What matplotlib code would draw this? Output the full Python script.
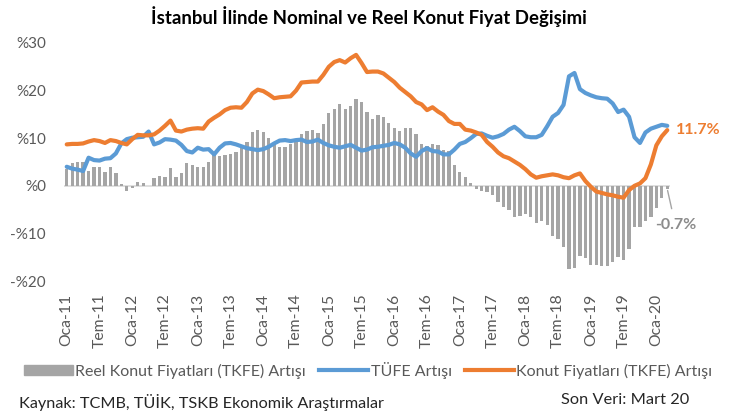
import matplotlib.pyplot as plt
from matplotlib.lines import Line2D
from matplotlib.patches import Patch
import numpy as np

plt.rcParams['font.family'] = ['Lato', 'DejaVu Sans']

# Tick labels every 6 months (Ocak 2011 - Mart 2020, monthly data)
tick_labels = ['Oca-11', 'Tem-11', 'Oca-12', 'Tem-12', 'Oca-13', 'Tem-13', 'Oca-14',
               'Tem-14', 'Oca-15', 'Tem-15', 'Oca-16', 'Tem-16', 'Oca-17', 'Tem-17',
               'Oca-18', 'Tem-18', 'Oca-19', 'Tem-19', 'Oca-20']

# Reel Konut Fiyatlari (TKFE) Artisi, %
real_change = [3.5, 4.7, 5.1, 5.1, 3.1, 4.0, 4.0, 2.9, 4.0, 2.6,
               0.3, -1.0, -0.5, 0.7, 0.5, -0.1, 1.6, 2.0, 1.8, 3.7,
               1.8, 2.6, 4.7, 4.4, 3.9, 3.9, 5.1, 6.5, 6.3, 6.5,
               6.7, 7.2, 7.9, 9.3, 11.4, 11.8, 11.2, 10.0, 9.1, 8.2,
               8.2, 8.7, 9.3, 10.8, 11.5, 11.7, 11.0, 12.9, 15.2, 16.2,
               17.2, 16.1, 16.8, 18.2, 17.5, 15.5, 14.1, 14.9, 14.5, 13.1,
               12.1, 11.5, 12.1, 12.1, 10.8, 8.7, 8.3, 8.7, 8.5, 7.5,
               7.3, 4.4, 2.9, 1.9, 0.5, -0.7, -1.1, -1.4, -2.0, -3.5,
               -4.4, -5.0, -6.5, -6.3, -6.0, -6.5, -7.8, -7.5, -8.3, -10.6,
               -11.1, -12.9, -17.4, -17.2, -14.8, -15.2, -16.7, -16.7, -16.9, -16.8,
               -16.0, -15.0, -15.6, -13.2, -8.6, -8.7, -7.3, -6.5, -4.6, -2.5,
               -0.7]

# TUFE Artisi, %
cpi_change = [4.0, 3.6, 3.4, 3.1, 5.9, 5.4, 5.3, 5.7, 5.8, 6.8,
              8.9, 9.8, 10.1, 10.2, 10.3, 11.4, 8.7, 9.1, 9.8, 9.7,
              9.5, 8.6, 7.3, 7.0, 8.0, 7.6, 7.7, 6.6, 8.0, 8.9,
              9.0, 8.7, 8.3, 7.9, 7.7, 7.5, 7.7, 8.2, 8.9, 9.5,
              9.6, 9.4, 9.6, 9.7, 9.2, 9.3, 9.7, 9.0, 8.5, 8.2,
              8.0, 8.3, 8.6, 8.0, 7.4, 7.6, 8.1, 8.2, 8.4, 8.6,
              9.0, 8.7, 8.0, 6.8, 6.1, 7.3, 7.9, 7.3, 7.2, 6.6,
              6.6, 7.6, 8.8, 9.2, 10.0, 10.9, 11.0, 10.5, 10.1, 10.4,
              10.9, 11.8, 12.4, 11.5, 10.4, 10.2, 10.2, 10.7, 12.5, 14.5,
              15.3, 17.0, 23.0, 23.7, 20.3, 19.5, 19.0, 18.6, 18.4, 18.3,
              17.3, 15.5, 16.0, 14.5, 10.2, 9.0, 11.2, 12.0, 12.4, 12.8,
              12.6]

# Konut Fiyatlari (TKFE) Artisi, %
house_change = [8.7, 8.8, 8.8, 8.9, 9.3, 9.6, 9.4, 9.0, 9.6, 9.4,
                9.0, 8.7, 9.8, 10.7, 10.6, 10.6, 10.8, 11.6, 12.6, 13.7,
                11.6, 11.4, 11.8, 12.0, 12.1, 12.0, 13.5, 14.3, 15.0, 15.9,
                16.4, 16.5, 16.4, 17.6, 19.4, 20.2, 19.9, 19.2, 18.4, 18.6,
                18.7, 18.8, 20.0, 21.7, 21.8, 21.9, 21.9, 23.3, 25.0, 26.0,
                26.4, 25.9, 26.8, 27.5, 25.8, 23.9, 24.0, 24.0, 23.6, 22.7,
                21.8, 20.6, 19.7, 18.8, 17.6, 17.1, 15.9, 16.5, 15.6, 14.9,
                13.6, 13.0, 13.0, 11.8, 11.6, 11.2, 10.7, 9.2, 8.2, 7.0,
                6.2, 5.8, 5.1, 4.4, 3.5, 2.4, 1.7, 2.0, 2.2, 2.4,
                2.2, 1.8, 1.6, 2.2, 2.6, 1.0, -0.2, -1.2, -1.5, -1.8,
                -2.0, -2.3, -2.5, -0.9, 0.0, 0.5, 1.6, 4.5, 8.5, 10.4,
                11.7]

gray = '#A5A5A5'
blue = '#5B9BD5'
orange = '#ED7D31'
text_gray = '#595959'

x = np.arange(len(real_change))

fig = plt.figure(figsize=(7.38, 4.15), dpi=100)
ax = fig.add_axes([64 / 738, 1 - 281 / 415, 606 / 738, 238 / 415])

ax.axhline(0, color='#D9D9D9', lw=1.2, zorder=1)
ax.bar(x, real_change, width=0.6, color=gray, zorder=2)
ax.plot(x, cpi_change, color=blue, lw=3, solid_capstyle='round', zorder=3)
ax.plot(x, house_change, color=orange, lw=3, solid_capstyle='round', zorder=4)

ax.set_xlim(-0.5, len(x) - 0.5)
ax.set_ylim(-20, 30)
ax.set_yticks([-20, -10, 0, 10, 20, 30])
ax.set_yticklabels(['-%20', '-%10', '%0', '%10', '%20', '%30'])
ax.set_xticks(x[::6])
ax.set_xticklabels(tick_labels, rotation=90)
ax.tick_params(axis='y', length=0, pad=13, labelsize=11, labelcolor=text_gray)
ax.tick_params(axis='x', length=0, pad=9, labelsize=11.3, labelcolor=text_gray)
for s in ax.spines.values():
    s.set_visible(False)

# end-of-series labels
ax.annotate('%.1f%%' % house_change[-1], xy=(x[-1], house_change[-1]), xytext=(6, 0),
            textcoords='offset points', va='center', ha='left', color=orange,
            fontsize=11.5, fontweight='bold')
ax.annotate('%.1f%%' % real_change[-1], xy=(x[-1], real_change[-1]), xytext=(-9, -26),
            textcoords='offset points', va='center', ha='left', color='#8C8C8C',
            fontsize=11.5, fontweight='bold',
            arrowprops=dict(arrowstyle='-', color='#A5A5A5', lw=1, shrinkA=5, shrinkB=1))

fig.text(0.5, 1 - 17 / 415, 'İstanbul İlinde Nominal ve Reel Konut Fiyat Değişimi',
         ha='center', va='center', fontsize=13.4, fontweight='bold')

handles = [Patch(color=gray), Line2D([], [], color=blue, lw=3), Line2D([], [], color=orange, lw=3)]
labels = ['Reel Konut Fiyatları (TKFE) Artışı', 'TÜFE Artışı', 'Konut Fiyatları (TKFE) Artışı']
leg = fig.legend(handles, labels, loc='center', bbox_to_anchor=(368 / 738, 1 - 370 / 415), ncol=3,
                 frameon=False, fontsize=11.5, handlelength=3.1, handleheight=0.55,
                 handletextpad=0.15, columnspacing=0.8, borderpad=0)
for t in leg.get_texts():
    t.set_color(text_gray)

fig.text(19 / 738, 1 - 402 / 415, 'Kaynak: TCMB, TÜİK, TSKB Ekonomik Araştırmalar',
         ha='left', va='center', fontsize=11.7, color='#262626')
fig.text(689 / 738, 1 - 400 / 415, 'Son Veri: Mart 20',
         ha='right', va='center', fontsize=11.8, color='#262626')

fig.savefig('out.png', dpi=100)
